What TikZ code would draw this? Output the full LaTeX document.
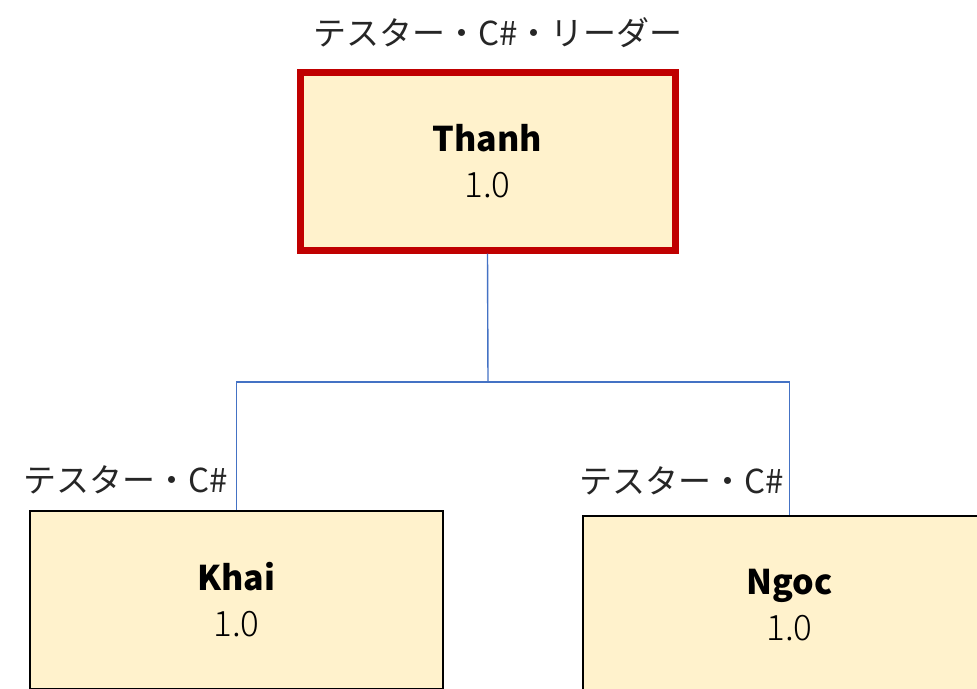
\documentclass[tikz,border=0pt]{standalone}
\usepackage{fontspec}
\setmainfont{Noto Sans CJK JP}
\newfontfamily\lightfont{Noto Sans CJK JP Light}
\definecolor{boxfill}{HTML}{FFF2CC}
\definecolor{leadred}{HTML}{C00000}
\definecolor{conncol}{HTML}{4472C4}
\tikzset{
  member/.style={draw=black, line width=2.7pt, fill=boxfill, minimum width=413pt, minimum height=178pt,
    align=center, inner sep=0pt, font=\fontsize{34}{46}\selectfont},
  leader/.style={member, draw=leadred, line width=7pt, minimum width=375pt, minimum height=178pt},
  rolelabel/.style={font=\fontsize{33}{38}\selectfont, inner sep=0pt, text=black!85},
  conn/.style={draw=conncol, line width=1.4pt}
}
\begin{document}
\begin{tikzpicture}[x=1pt,y=-1pt]
\useasboundingbox (0,0) rectangle (977,688);
\clip (0,0) rectangle (977,688);
\coordinate (bus) at (488,382);
\node[leader] (thanh) at (487.5,161) {\textbf{Thanh}\\{\lightfont\fontsize{35}{46}\selectfont 1.0}};
\node[member] (khai) at (236.5,600) {\textbf{Khai}\\{\lightfont\fontsize{35}{46}\selectfont 1.0}};
\node[member] (ngoc) at (789.5,605) {\textbf{Ngoc}\\{\lightfont\fontsize{35}{46}\selectfont 1.0}};
\draw[conn] (thanh.south) -- (bus);
\draw[conn] (khai.north) |- (bus) -| (ngoc.north);
\node[rolelabel] (lthanh) at (498,33) {テスター・C\#・リーダー};
\node[rolelabel] (lkhai) at (126,480) {テスター・C\#};
\node[rolelabel] (lngoc) at (682,481) {テスター・C\#};
\end{tikzpicture}
\end{document}
